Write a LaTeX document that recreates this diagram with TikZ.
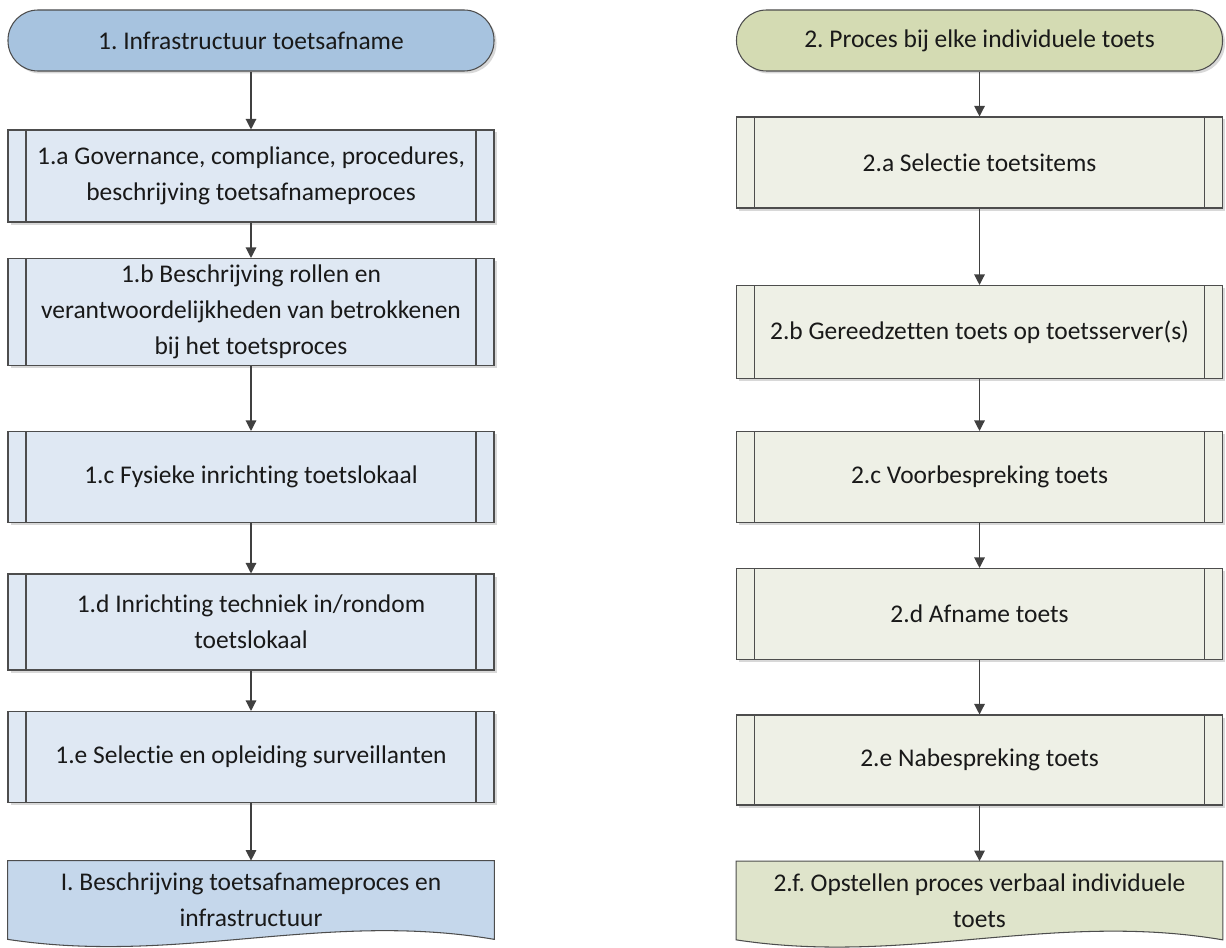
\documentclass[tikz,border=0pt]{standalone}
\usepackage{fontspec}
\setmainfont{Carlito}[Ligatures=NoCommon]
\usepackage{xcolor}
\usepackage{tikz}
\usetikzlibrary{arrows.meta,calc,backgrounds,shadows}
\definecolor{edgegray}{HTML}{4D4D4D}
\definecolor{infraterm}{HTML}{A7C3DF}
\definecolor{infraproc}{HTML}{DFE8F3}
\definecolor{infradoc}{HTML}{C5D7EB}
\definecolor{toetsterm}{HTML}{D4DBB3}
\definecolor{toetsproc}{HTML}{EEF0E6}
\definecolor{toetsdoc}{HTML}{DFE4CB}
\frenchspacing

\begin{document}
\begin{tikzpicture}[
    font=\fontsize{14.5}{20.5}\selectfont,
    base/.style={draw=edgegray, line width=0.6pt, minimum width=9.72cm, align=center, inner sep=2pt, text=black!90, drop shadow={shadow xshift=0.05cm, shadow yshift=-0.05cm, fill=black!30, opacity=0.5}},
    term/.style={base, rounded corners=0.6cm, minimum height=1.22cm},
    proc/.style={base, minimum height=1.82cm, path picture={\draw[edgegray, line width=0.6pt] ([xshift=0.36cm]path picture bounding box.north west) -- ([xshift=0.36cm]path picture bounding box.south west) ([xshift=-0.36cm]path picture bounding box.north east) -- ([xshift=-0.36cm]path picture bounding box.south east);}},
    docu/.style={minimum width=9.72cm, minimum height=1.56cm, align=center, inner sep=2pt, text=black!90},
    wave/.style={draw=edgegray, line width=0.6pt},
    link/.style={draw=black!75, line width=0.7pt, -{Triangle[length=6pt,width=6pt]}}
]
\useasboundingbox (0,0) rectangle (24.52,-18.94);

% column 1: infrastructuur
\node[term, fill=infraterm] (t1) at (5.02,-0.81) {1. Infrastructuur toetsafname};
\node[proc, fill=infraproc, minimum height=1.84cm] (p1a) at (5.02,-3.52) {1.a Governance, compliance, procedures,\\beschrijving toetsafnameproces};
\node[proc, fill=infraproc, minimum height=2.14cm] (p1b) at (5.02,-6.24) {1.b Beschrijving rollen en\\verantwoordelijkheden van betrokkenen\\bij het toetsproces};
\node[proc, fill=infraproc] (p1c) at (5.02,-9.54) {1.c Fysieke inrichting toetslokaal};
\node[proc, fill=infraproc, minimum height=1.92cm] (p1d) at (5.02,-12.44) {1.d Inrichting techniek in/rondom\\toetslokaal};
\node[proc, fill=infraproc] (p1e) at (5.02,-15.14) {1.e Selectie en opleiding surveillanten};
\node[docu] (out1) at (5.02,-18.0) {I. Beschrijving toetsafnameproces en\\infrastructuur};

% column 2: individuele toets
\node[term, fill=toetsterm] (t2) at (19.59,-0.81) {2. Proces bij elke individuele toets};
\node[proc, fill=toetsproc] (p2a) at (19.59,-3.25) {2.a Selectie toetsitems};
\node[proc, fill=toetsproc, minimum height=1.86cm] (p2b) at (19.59,-6.64) {2.b Gereedzetten toets op toetsserver(s)};
\node[proc, fill=toetsproc] (p2c) at (19.59,-9.54) {2.c Voorbespreking toets};
\node[proc, fill=toetsproc] (p2d) at (19.59,-12.28) {2.d Afname toets};
\node[proc, fill=toetsproc, minimum height=1.8cm] (p2e) at (19.59,-15.2) {2.e Nabespreking toets};
\node[docu] (out2) at (19.59,-18.01) {2.f. Opstellen proces verbaal individuele\\toets};

\begin{scope}[on background layer]
\path[wave, fill=infradoc] (out1.north west) -- (out1.north east) -- (out1.south east) .. controls ($(out1.south west)!0.65!(out1.south east)+(0,0.58)$) and ($(out1.south west)!0.35!(out1.south east)+(0,-0.52)$) .. (out1.south west) -- cycle;
\path[wave, fill=toetsdoc] (out2.north west) -- (out2.north east) -- (out2.south east) .. controls ($(out2.south west)!0.65!(out2.south east)+(0,0.58)$) and ($(out2.south west)!0.35!(out2.south east)+(0,-0.52)$) .. (out2.south west) -- cycle;
\end{scope}

\foreach \a/\b in {t1/p1a,p1a/p1b,p1b/p1c,p1c/p1d,p1d/p1e,p1e/out1,t2/p2a,p2a/p2b,p2b/p2c,p2c/p2d,p2d/p2e,p2e/out2}
  \draw[link] (\a) -- (\b);
\end{tikzpicture}
\end{document}
